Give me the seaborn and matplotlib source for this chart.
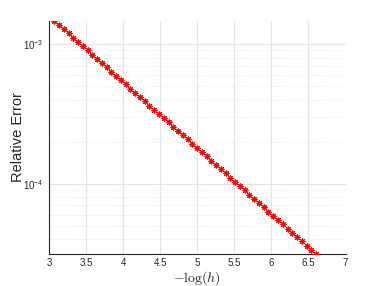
import numpy as np
import pandas as pd
import matplotlib
matplotlib.use("Agg")
import matplotlib.pyplot as plt
import matplotlib.ticker as mticker
import seaborn as sns

# values
neg_log_h = [3.072, 3.136, 3.200, 3.265, 3.329, 3.393, 3.457, 3.521, 3.586, 3.650,
             3.714, 3.778, 3.842, 3.907, 3.971, 4.035, 4.099, 4.163, 4.228, 4.292,
             4.356, 4.420, 4.484, 4.549, 4.613, 4.677, 4.741, 4.805, 4.870, 4.934,
             4.998, 5.062, 5.126, 5.191, 5.255, 5.319, 5.383, 5.447, 5.512, 5.576,
             5.640, 5.704, 5.768, 5.833, 5.897, 5.961, 6.025, 6.089, 6.154, 6.218,
             6.282, 6.346, 6.410, 6.475, 6.539, 6.603]
rel_error = [1.469e-3, 1.370e-3, 1.277e-3, 1.191e-3, 1.111e-3, 1.036e-3, 9.66e-4, 9.01e-4,
             8.40e-4, 7.83e-4, 7.30e-4, 6.81e-4, 6.35e-4, 5.92e-4, 5.52e-4, 5.15e-4,
             4.80e-4, 4.48e-4, 4.18e-4, 3.89e-4, 3.63e-4, 3.39e-4, 3.16e-4, 2.94e-4,
             2.75e-4, 2.56e-4, 2.39e-4, 2.23e-4, 2.08e-4, 1.94e-4, 1.81e-4, 1.68e-4,
             1.57e-4, 1.46e-4, 1.37e-4, 1.27e-4, 1.19e-4, 1.11e-4, 1.03e-4, 9.63e-5,
             8.98e-5, 8.37e-5, 7.81e-5, 7.28e-5, 6.79e-5, 6.33e-5, 5.90e-5, 5.50e-5,
             5.13e-5, 4.79e-5, 4.46e-5, 4.16e-5, 3.88e-5, 3.62e-5, 3.38e-5, 3.15e-5]
x_ticks = [3, 3.5, 4, 4.5, 5, 5.5, 6, 6.5, 7]
x_tick_labels = ["3", "3.5", "4", "4.5", "5", "5.5", "6", "6.5", "7"]

df = pd.DataFrame({"x": neg_log_h, "err": rel_error})

sns.set_style("white")
plt.rcParams["font.family"] = ["Liberation Sans", "DejaVu Sans"]
plt.rcParams["mathtext.fontset"] = "cm"

fig = plt.figure(figsize=(3.82, 2.86), dpi=100)
ax = fig.add_axes([0.128, 0.112, 0.7765, 0.8155])

sns.scatterplot(data=df, x="x", y="err", ax=ax, marker=(8, 2, 0), color="red",
                edgecolor="red", s=13, linewidth=0.8, zorder=3)

ax.set_yscale("log")
ax.set_xlim(3, 7)
ax.set_ylim(min(rel_error), max(rel_error))
ax.set_xticks(x_ticks)
ax.set_xticklabels(x_tick_labels)
ax.yaxis.set_major_locator(mticker.LogLocator(base=10))
ax.yaxis.set_minor_locator(mticker.LogLocator(base=10, subs=np.arange(2, 10)))
ax.yaxis.set_minor_formatter(mticker.NullFormatter())

ax.grid(True, which="major", color="#e4e4e4", linewidth=0.8, linestyle="-")
ax.grid(True, which="minor", axis="y", color="#e0e0e0", linewidth=0.6, linestyle=(0, (1, 2)))
ax.set_axisbelow(True)

for side in ["top", "right"]:
    ax.spines[side].set_visible(False)
for side in ["left", "bottom"]:
    ax.spines[side].set_color("#262626")
    ax.spines[side].set_linewidth(0.8)

ax.tick_params(axis="both", which="both", direction="in", colors="#262626",
               labelsize=7, width=0.6)
ax.tick_params(axis="both", which="major", length=3)
ax.tick_params(axis="y", which="minor", length=1.8)
ax.tick_params(axis="x", pad=3)
ax.tick_params(axis="y", pad=4)

ax.set_xlabel(r"$-\log(h)$", fontsize=10, color="#262626", va="center")
ax.xaxis.set_label_coords(0.5, -0.103)
ax.set_ylabel("Relative Error", fontsize=10.5, color="#262626", va="center")
ax.yaxis.set_label_coords(-0.105, 0.5)

fig.savefig("out.png", dpi=100)
